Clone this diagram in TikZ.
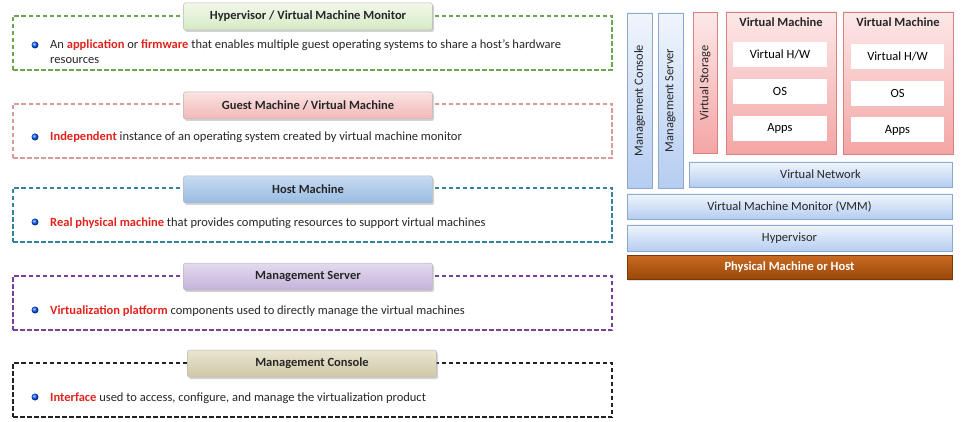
\documentclass[tikz,border=0pt]{standalone}
\usepackage{fontspec}
\setmainfont{Carlito}
\usetikzlibrary{shadows}
\definecolor{hl}{HTML}{E3231B}
\definecolor{txt}{HTML}{262626}
\definecolor{gline}{HTML}{6AA84F}
\definecolor{gtop}{HTML}{F1F8EA}
\definecolor{gbot}{HTML}{D6EAC4}
\definecolor{pline}{HTML}{D99A98}
\definecolor{ptop}{HTML}{FBE3E3}
\definecolor{pbot}{HTML}{F2B8B8}
\definecolor{tline}{HTML}{31849B}
\definecolor{ttop}{HTML}{C7DAF0}
\definecolor{tbot}{HTML}{99BCE3}
\definecolor{vline}{HTML}{7A3E9D}
\definecolor{vtop}{HTML}{E3DAEE}
\definecolor{vbot}{HTML}{C4B3DA}
\definecolor{kline}{HTML}{222222}
\definecolor{ktop}{HTML}{E9E5D2}
\definecolor{kbot}{HTML}{CFC8A6}
\definecolor{bbord}{HTML}{8EA8D2}
\definecolor{btop}{HTML}{F0F5FD}
\definecolor{bbot}{HTML}{B5CDF1}
\definecolor{rbord}{HTML}{D98080}
\definecolor{rtop}{HTML}{FDE8E8}
\definecolor{rbot}{HTML}{F4A5A5}
\definecolor{otop}{HTML}{C86A22}
\definecolor{obot}{HTML}{9A4709}
\definecolor{obord}{HTML}{7A3A08}
\begin{document}
\begin{tikzpicture}[x=1pt,y=-1pt,font=\fontsize{12.5}{15}\selectfont,
  dbox/.style={draw, dash pattern=on 4.5pt off 2.5pt, line width=1.4pt, minimum width=599pt, minimum height=54pt, inner sep=0pt},
  tabbox/.style={rounded corners=2pt, draw=gray!55, line width=0.5pt, drop shadow={shadow xshift=1.5pt,shadow yshift=-2pt,opacity=0.35}, minimum width=249pt, minimum height=27pt, font=\fontsize{12.5}{14}\selectfont\bfseries, text=txt},
  desc/.style={anchor=base west, inner sep=0pt, text=txt, align=left},
  bul/.style={circle, inner sep=0pt, minimum size=7pt, ball color=blue!65!cyan},
  bluebox/.style={draw=bbord, line width=0.7pt, top color=btop, bottom color=bbot, inner sep=0pt, drop shadow={shadow xshift=1pt,shadow yshift=-1pt,opacity=0.25}},
  pinkbox/.style={draw=rbord, line width=0.7pt, top color=rtop, bottom color=rbot, inner sep=0pt, drop shadow={shadow xshift=1pt,shadow yshift=-1pt,opacity=0.25}},
  whitebox/.style={fill=white, inner sep=0pt},
  lbl/.style={inner sep=0pt, text=txt}
]
\useasboundingbox (0,0) rectangle (969,422);

% ---------- left column ----------
\node[dbox, draw=gline] (b1) at (312.5,43) {};
\node[tabbox, top color=gtop, bottom color=gbot] (t1) at (308,16.5) {Hypervisor / Virtual Machine Monitor};
\node[bul] (u1) at (35,45) {};
\node[desc] (d1) at (50,64) {An \textcolor{hl}{\textbf{application}} or \textcolor{hl}{\textbf{firmware}} that enables multiple guest operating systems to share a host’s hardware\\resources};

\node[dbox, draw=pline] (b2) at (312.5,131) {};
\node[tabbox, top color=ptop, bottom color=pbot] (t2) at (308,105.5) {Guest Machine / Virtual Machine};
\node[bul] (u2) at (35,137) {};
\node[desc] (d2) at (50,141) {\textcolor{hl}{\textbf{Independent}} instance of an operating system created by virtual machine monitor};

\node[dbox, draw=tline] (b3) at (312.5,215) {};
\node[tabbox, top color=ttop, bottom color=tbot] (t3) at (308,189.5) {Host Machine};
\node[bul] (u3) at (35,222) {};
\node[desc] (d3) at (50,226) {\textcolor{hl}{\textbf{Real physical machine}} that provides computing resources to support virtual machines};

\node[dbox, draw=vline] (b4) at (312.5,303) {};
\node[tabbox, top color=vtop, bottom color=vbot] (t4) at (308,276.5) {Management Server};
\node[bul] (u4) at (35,310) {};
\node[desc] (d4) at (50,314) {\textcolor{hl}{\textbf{Virtualization platform}} components used to directly manage the virtual machines};

\node[dbox, draw=kline] (b5) at (312.5,390) {};
\node[tabbox, top color=ktop, bottom color=kbot] (t5) at (312,363.5) {Management Console};
\node[bul] (u5) at (35,397) {};
\node[desc] (d5) at (50,401) {\textcolor{hl}{\textbf{Interface}} used to access, configure, and manage the virtualization product};

% ---------- right diagram ----------
\node[bluebox, minimum width=25pt, minimum height=175pt] (mc) at (639.5,100.5) {};
\node[lbl, rotate=90] (mct) at (mc.center) {Management Console};
\node[bluebox, minimum width=25pt, minimum height=175pt] (ms) at (670.5,100.5) {};
\node[lbl, rotate=90] (mst) at (ms.center) {Management Server};
\node[pinkbox, minimum width=24pt, minimum height=141pt] (vs) at (705,83) {};
\node[lbl, rotate=90] (vst) at (vs.center) {Virtual Storage};

\node[pinkbox, minimum width=110pt, minimum height=142pt] (vm1) at (781,83) {};
\node[lbl, font=\fontsize{12.5}{14}\selectfont\bfseries] (vm1t) at (781,22) {Virtual Machine};
\node[whitebox, minimum width=94pt, minimum height=25pt] (hw1) at (780,54.5) {Virtual H/W};
\node[whitebox, minimum width=94pt, minimum height=25pt] (os1) at (780,91.5) {OS};
\node[whitebox, minimum width=94pt, minimum height=25pt] (ap1) at (780,128.5) {Apps};

\node[pinkbox, minimum width=110pt, minimum height=142pt] (vm2) at (898,83) {};
\node[lbl, font=\fontsize{12.5}{14}\selectfont\bfseries] (vm2t) at (898,22) {Virtual Machine};
\node[whitebox, minimum width=93pt, minimum height=25pt] (hw2) at (897.5,56.5) {Virtual H/W};
\node[whitebox, minimum width=93pt, minimum height=25pt] (os2) at (897.5,93.5) {OS};
\node[whitebox, minimum width=93pt, minimum height=25pt] (ap2) at (897.5,130) {Apps};

\node[bluebox, minimum width=263pt, minimum height=25pt, text=txt] (vn) at (820.5,174.5) {Virtual Network};
\node[bluebox, minimum width=325pt, minimum height=25pt, text=txt] (vmm) at (789.5,206.5) {Virtual Machine Monitor (VMM)};
\node[bluebox, minimum width=325pt, minimum height=26pt, text=txt] (hyp) at (789.5,238) {Hypervisor};
\node[draw=obord, line width=0.7pt, top color=otop, bottom color=obot, inner sep=0pt, minimum width=325pt, minimum height=24pt, text=white, font=\fontsize{12.5}{14}\selectfont\bfseries, drop shadow={shadow xshift=1pt,shadow yshift=-1pt,opacity=0.25}] (phy) at (789.5,267.5) {Physical Machine or Host};
\end{tikzpicture}
\end{document}
